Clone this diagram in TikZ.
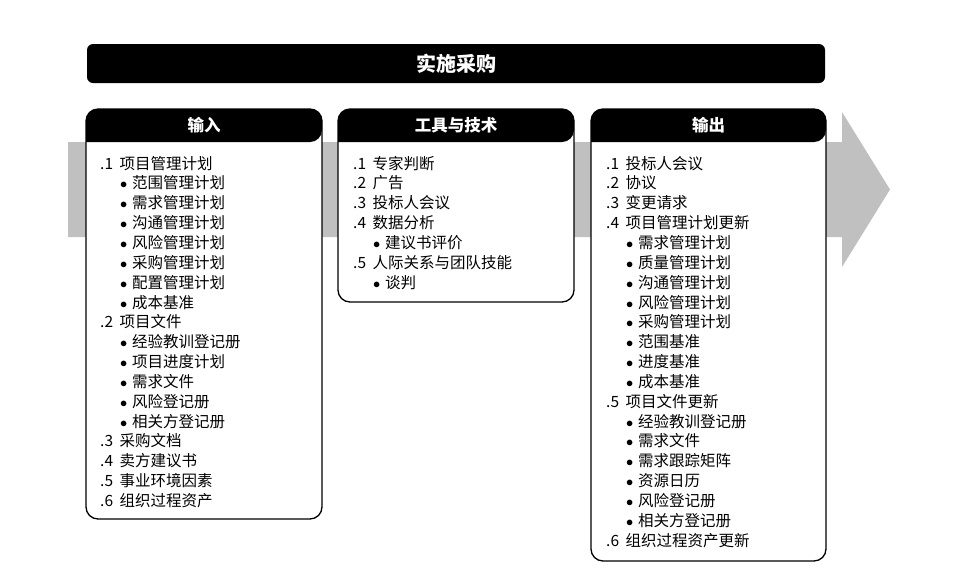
\documentclass[tikz,border=0pt]{standalone}
\usepackage{fontspec}
\setmainfont{Noto Sans CJK SC}
\usetikzlibrary{positioning}
\definecolor{arrowgray}{RGB}{192,192,192}
\newcommand{\numitem}[2]{\makebox[19.5pt][l]{#1}#2}
\newcommand{\bulitem}[1]{\hspace{21pt}\makebox[11pt][l]{\makebox[5pt]{$\bullet$}}#1}
\tikzset{
  listtext/.style={anchor=base west, inner sep=0pt, align=left, font=\fontsize{15.5}{19.85}\selectfont},
  headtext/.style={text=white, inner sep=0pt, font=\bfseries\fontsize{16.5}{18}\selectfont},
  boxline/.style={line width=1.3pt, rounded corners=12pt},
}
\begin{document}
\begin{tikzpicture}[line cap=round,line join=round,x=1pt,y=-1pt]
      \useasboundingbox (0,0) rectangle (970,582);
      \fill[arrowgray] (68,142) -- (842,142) -- (842,112) -- (890,189.5) -- (842,267) -- (842,237) -- (68,237) -- cycle;
      \fill[rounded corners=6pt] (87,44) rectangle (825,83);
      \node[headtext, font=\bfseries\fontsize{20}{22}\selectfont] (title) at (456,63.5) {实施采购};
      % inputs (node sits on the baseline of its last line)
      \fill[white] (86,109) rectangle (322,519);
      \fill (86,142) [rounded corners=12pt] |- (204,109) -| (322,142) [sharp corners] -- cycle;
      \draw[boxline] (86,109) rectangle (322,519);
      \node[headtext] (inhead) at (204,125.5) {输入};
      \node[listtext] (inlist) at (100,506.5) {\numitem{.1}{项目管理计划}\\
        \bulitem{范围管理计划}\\
        \bulitem{需求管理计划}\\
        \bulitem{沟通管理计划}\\
        \bulitem{风险管理计划}\\
        \bulitem{采购管理计划}\\
        \bulitem{配置管理计划}\\
        \bulitem{成本基准}\\
        \numitem{.2}{项目文件}\\
        \bulitem{经验教训登记册}\\
        \bulitem{项目进度计划}\\
        \bulitem{需求文件}\\
        \bulitem{风险登记册}\\
        \bulitem{相关方登记册}\\
        \numitem{.3}{采购文档}\\
        \numitem{.4}{卖方建议书}\\
        \numitem{.5}{事业环境因素}\\
        \numitem{.6}{组织过程资产}};
      % tools
      \fill[white] (338,109) rectangle (574,302);
      \fill (338,142) [rounded corners=12pt] |- (456,109) -| (574,142) [sharp corners] -- cycle;
      \draw[boxline] (338,109) rectangle (574,302);
      \node[headtext] (toolhead) at (456,125.5) {工具与技术};
      \node[listtext] (toollist) at (353,288.1) {\numitem{.1}{专家判断}\\
        \numitem{.2}{广告}\\
        \numitem{.3}{投标人会议}\\
        \numitem{.4}{数据分析}\\
        \bulitem{建议书评价}\\
        \numitem{.5}{人际关系与团队技能}\\
        \bulitem{谈判}};
      % outputs
      \fill[white] (591,109) rectangle (826,561);
      \fill (591,142) [rounded corners=12pt] |- (708.5,109) -| (826,142) [sharp corners] -- cycle;
      \draw[boxline] (591,109) rectangle (826,561);
      \node[headtext] (outhead) at (708.5,125.5) {输出};
      \node[listtext] (outlist) at (606,546.2) {\numitem{.1}{投标人会议}\\
        \numitem{.2}{协议}\\
        \numitem{.3}{变更请求}\\
        \numitem{.4}{项目管理计划更新}\\
        \bulitem{需求管理计划}\\
        \bulitem{质量管理计划}\\
        \bulitem{沟通管理计划}\\
        \bulitem{风险管理计划}\\
        \bulitem{采购管理计划}\\
        \bulitem{范围基准}\\
        \bulitem{进度基准}\\
        \bulitem{成本基准}\\
        \numitem{.5}{项目文件更新}\\
        \bulitem{经验教训登记册}\\
        \bulitem{需求文件}\\
        \bulitem{需求跟踪矩阵}\\
        \bulitem{资源日历}\\
        \bulitem{风险登记册}\\
        \bulitem{相关方登记册}\\
        \numitem{.6}{组织过程资产更新}};
\end{tikzpicture}
\end{document}
